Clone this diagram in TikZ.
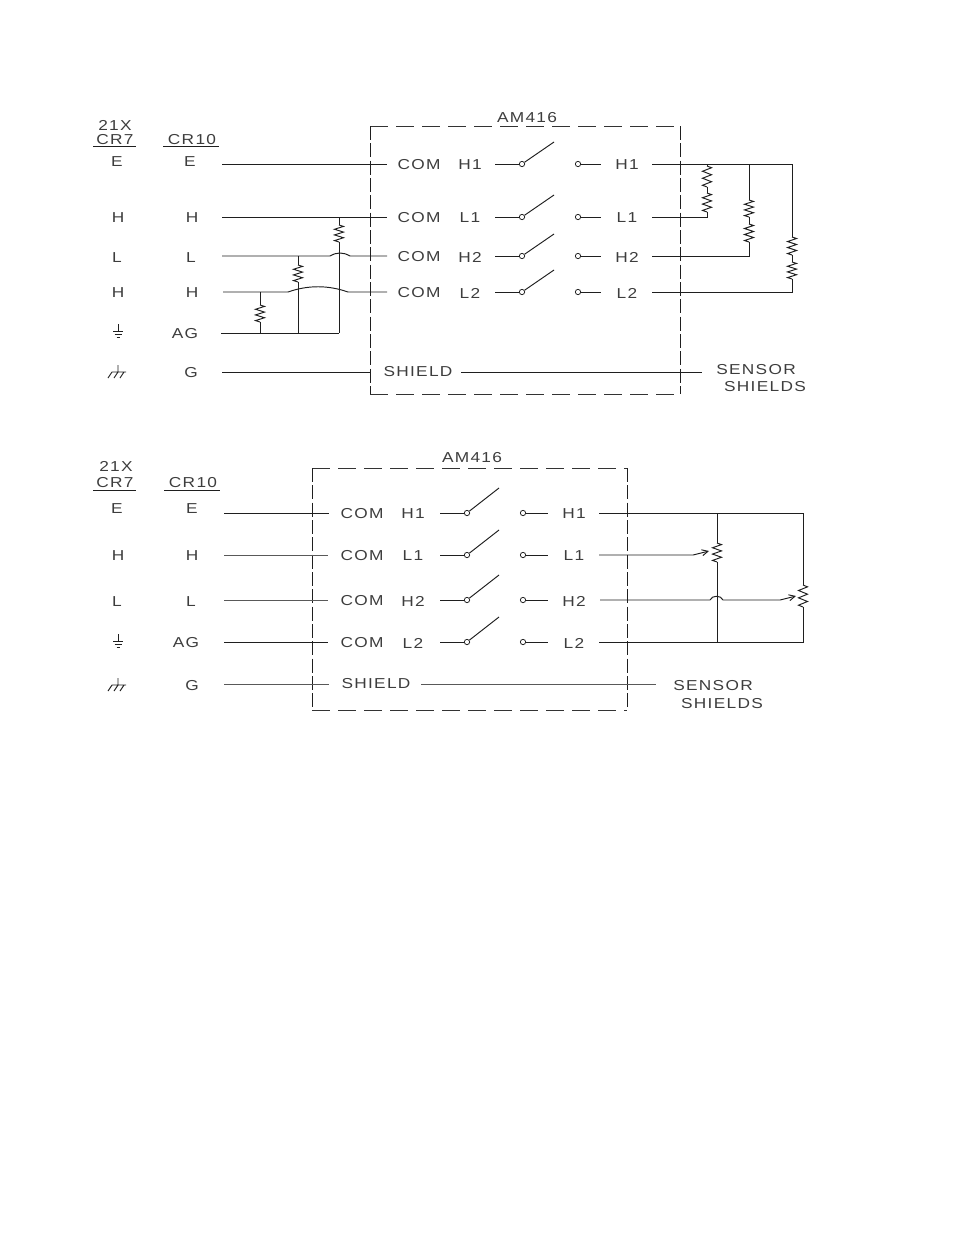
\documentclass[tikz,border=0pt]{standalone}
\usepackage{fontspec}
\setmainfont[FakeStretch=1.2,LetterSpace=9]{Liberation Sans}
\usetikzlibrary{arrows.meta}
\tikzset{
  lab/.style={inner sep=0pt,font=\fontsize{10.8pt}{12pt}\selectfont,text=black!76},
  wire/.style={line width=0.72pt,black!88},
  thin wire/.style={line width=0.72pt,black!65},
  hbox/.style={line width=0.72pt,black!80,dash pattern=on 13.5pt off 6pt},
  vbox/.style={line width=0.72pt,black!88,dash pattern=on 10.5pt off 2.5pt},
  dot/.style={circle,draw=black!85,line width=0.6pt,fill=white,inner sep=0pt,minimum size=4pt},
  tip/.style={-{Straight Barb[length=4.5pt,width=4.5pt]}}
}
\newcommand{\zz}[3]{\draw[wire,shift={(#1,#2)},yscale={(#3-#2)/12}] (0,0)--(4.5,1)--(-4.5,3)--(4.5,5)--(-4.5,7)--(4.5,9)--(-4.5,11)--(0,12);}
\newcommand{\agnd}[2]{\draw[wire] (#1,#2-8)--(#1,#2-1) (#1-5,#2-1)--(#1+5,#2-1) (#1-3.5,#2+2)--(#1+3.5,#2+2) (#1-1.5,#2+5)--(#1+1.5,#2+5);}
\newcommand{\egnd}[2]{\draw[wire] (#1,#2-7)--(#1,#2) (#1-6,#2)--(#1+8,#2) (#1-6,#2)--(#1-10,#2+6) (#1,#2)--(#1-4,#2+6) (#1+6,#2)--(#1+2,#2+6);}
\begin{document}
\begin{tikzpicture}[x=0.75pt,y=-0.75pt]
\useasboundingbox (0,0) rectangle (954,1235);
% ===== top diagram =====
\node[lab] (a21x) at (115,125) {21X};
\node[lab] (acr7) at (115,140) {CR7};
\node[lab] (acr10) at (192,140) {CR10};
\draw[wire] (93,146)--(136,146) (163,146)--(219,146);
\foreach \n/\t/\x/\y in {ae1/E/117/162,ae2/E/190/162,ah1/H/118/218,ah2/H/192/218,al1/L/117/258,al2/L/191/258,ah3/H/118/293,ah4/H/192/293,aag/AG/185/334,ag/G/191/373}
  \node[lab] (\n) at (\x,\y) {\t};
\agnd{118}{332}
\egnd{118}{372}
\node[lab] (aam) at (527,118) {AM416};
\coordinate (atl) at (370,126);
\coordinate (atr) at (680,126);
\coordinate (abl) at (370,394);
\coordinate (abr) at (680,394);
\draw[hbox] (atl)--(atr) (abl)--(abr);
\draw[vbox] (atl)--(abl) (atr)--(abr);
\foreach \n/\y/\s/\t in {1/164/H1/H1,2/217/L1/L1,3/256/H2/H2,4/292/L2/L2}{
  \node[lab] (ac\n) at (419,\y+1) {COM};
  \node[lab] (as\n) at (470,\y+1) {\s};
  \node[lab] (ar\n) at (627,\y+1) {\t};
  \node[dot] (ad\n) at (522,\y) {};
  \node[dot] (ao\n) at (578,\y) {};
  \coordinate (aarm\n) at (554,\y-22);
  \coordinate (ain\n) at (495,\y);
  \draw[wire] (ain\n) -- (ad\n);
  \draw[wire] (ad\n)--(aarm\n);
  \draw[wire] (ao\n)--(601,\y);
}
\node[lab] (ash) at (418,372) {SHIELD};
\node[lab] (asen) at (756,370) {SENSOR};
\node[lab] (ashs) at (765,387) {SHIELDS};
% left wires
\draw[wire] (222,164)--(387,164);
\draw[wire] (222,217)--(387,217);
\draw[wire] (222,256)--(330,256) .. controls (337,252) and (343,252) .. (350,256) -- (387,256);
\draw[wire] (223,292)--(288,292) .. controls (308,285) and (328,285) .. (348,292) -- (387,292);
\draw[wire] (221,333)--(339,333);
\draw[wire] (222,372)--(370,372);
\draw[wire] (339,217)--(339,225) (339,242)--(339,333);
\zz{339}{225}{242}
\draw[wire] (298,256)--(298,265) (298,282)--(298,333);
\zz{298}{265}{282}
\draw[wire] (260,292)--(260,305) (260,322)--(260,333);
\zz{260}{305}{322}
% right wires
\draw[wire] (461,372)--(702,372);
\draw[wire] (652,164)--(792,164);
\draw[wire] (652,217)--(707,217)--(707,212);
\draw[wire] (707,164)--(707,166) (707,187)--(707,193);
\zz{707}{166}{187}
\zz{707}{193}{212}
\draw[wire] (652,256)--(749,256)--(749,242);
\draw[wire] (749,164)--(749,200) (749,217)--(749,224);
\zz{749}{200}{217}
\zz{749}{224}{242}
\draw[wire] (652,292)--(792,292)--(792,279);
\draw[wire] (792,164)--(792,237) (792,255)--(792,262);
\zz{792}{237}{255}
\zz{792}{262}{279}
% ===== bottom diagram =====
\node[lab] (b21x) at (116,466) {21X};
\node[lab] (bcr7) at (115,483) {CR7};
\node[lab] (bcr10) at (193,483) {CR10};
\draw[wire] (93,490)--(136,490) (164,490)--(220,490);
\foreach \n/\t/\x/\y in {be1/E/117/509,be2/E/192/509,bh1/H/118/556,bh2/H/192/556,bl1/L/117/602,bl2/L/191/602,bag/AG/186/643,bg/G/192/686}
  \node[lab] (\n) at (\x,\y) {\t};
\agnd{118}{642}
\egnd{118}{685}
\node[lab] (bam) at (472,458) {AM416};
\coordinate (btl) at (312,468);
\coordinate (btr) at (627,468);
\coordinate (bbl) at (312,710);
\coordinate (bbr) at (627,710);
\draw[hbox] (btl)--(btr) (bbl)--(bbr);
\draw[vbox] (btl)--(bbl) (btr)--(bbr);
\foreach \n/\y/\s/\t in {1/513/H1/H1,2/555/L1/L1,3/600/H2/H2,4/642/L2/L2}{
  \node[lab] (bc\n) at (362,\y+1) {COM};
  \node[lab] (bs\n) at (413,\y+1) {\s};
  \node[lab] (br\n) at (574,\y+1) {\t};
  \node[dot] (bd\n) at (467,\y) {};
  \node[dot] (bo\n) at (523,\y) {};
  \coordinate (barm\n) at (499,\y-25);
  \coordinate (bin\n) at (440,\y);
  \draw[wire] (bin\n) -- (bd\n);
  \draw[wire] (bd\n)--(barm\n);
  \draw[wire] (bo\n)--(548,\y);
}
\node[lab] (bsh) at (376,684) {SHIELD};
\node[lab] (bsen) at (713,686) {SENSOR};
\node[lab] (bshs) at (722,704) {SHIELDS};
\draw[wire] (224,513)--(329,513);
\draw[thin wire] (224,555)--(328,555);
\draw[thin wire] (224,600)--(328,600);
\draw[wire] (224,642)--(328,642);
\draw[thin wire] (224,684)--(329,684);
\draw[thin wire] (421,684)--(656,684);
\draw[wire] (599,513)--(803,513)--(803,585);
\draw[wire] (599,642)--(803,642)--(803,607);
\draw[wire] (717,513)--(717,543) (717,562)--(717,642);
\zz{717}{543}{562}
\zz{803}{585}{607}
\draw[wire,tip] (599,555)--(693,555)--(709,551);
\draw[wire,tip] (600,600)--(710,600) .. controls (712,595) and (721,595) .. (723,600) -- (780,600) -- (796,596);
\end{tikzpicture}
\end{document}
